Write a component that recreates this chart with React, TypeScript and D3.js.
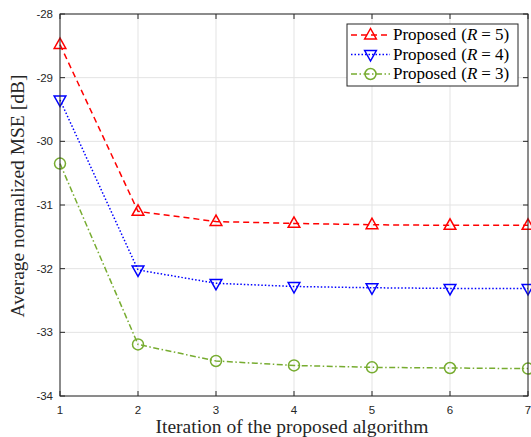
import React from "react";
import * as d3 from "d3";

const iterations = [1, 2, 3, 4, 5, 6, 7];
const mseR5 = [-28.48, -31.1, -31.26, -31.29, -31.31, -31.32, -31.32];
const mseR4 = [-29.35, -32.02, -32.23, -32.28, -32.3, -32.31, -32.31];
const mseR3 = [-30.35, -33.19, -33.45, -33.52, -33.55, -33.56, -33.57];
const xTicks = [1, 2, 3, 4, 5, 6, 7];
const yTicks = [-28, -29, -30, -31, -32, -33, -34];
const seriesLabels = ["5", "4", "3"];

const W = 531, H = 437;
const M = { left: 60, right: 3, top: 14, bottom: 41 };

const series = [
  { values: mseR5, color: "#ff0000", dash: "6,4", marker: "up", label: seriesLabels[0] },
  { values: mseR4, color: "#0000ff", dash: "1.5,2", marker: "down", label: seriesLabels[1] },
  { values: mseR3, color: "#77ac30", dash: "6,2.5,1.5,2.5", marker: "circle", label: seriesLabels[2] },
];

function Marker({ type, x, y, color }: { type: string; x: number; y: number; color: string }) {
  const s = 6.5;
  if (type === "circle") {
    return <circle cx={x} cy={y} r={5.5} fill="none" stroke={color} strokeWidth={1.5} />;
  }
  const pts =
    type === "up"
      ? [[x, y - s], [x - s * 0.9, y + s * 0.6], [x + s * 0.9, y + s * 0.6]]
      : [[x, y + s], [x - s * 0.9, y - s * 0.6], [x + s * 0.9, y - s * 0.6]];
  return <polygon points={pts.map((p) => p.join(",")).join(" ")} fill="none" stroke={color} strokeWidth={1.5} />;
}

export default function App() {
  const x = d3.scaleLinear().domain([1, 7]).range([M.left, W - M.right]);
  const y = d3.scaleLinear().domain([-34, -28]).range([H - M.bottom, M.top]);
  const line = d3
    .line<number>()
    .x((_, i) => x(iterations[i]))
    .y((d) => y(d));
  const axisColor = "#262626";
  const x0 = x(1), x1 = x(7), y0 = y(-34), y1 = y(-28);
  const tickFont = "'Liberation Sans', Arial, sans-serif";
  const serif = "'Liberation Serif', 'DejaVu Serif', serif";
  const legX = 347, legY = 24, legW = 171, legH = 62;

  return (
    <svg width={W} height={H} style={{ position: "absolute", left: 0, top: 0, background: "#fff" }}>
      <rect x={0} y={0} width={W} height={H} fill="#fff" />
      {/* grid */}
      {xTicks.map((t) => (
        <line key={"gx" + t} x1={x(t)} x2={x(t)} y1={y0} y2={y1} stroke="#e3e3e3" strokeWidth={1} />
      ))}
      {yTicks.map((t) => (
        <line key={"gy" + t} x1={x0} x2={x1} y1={y(t)} y2={y(t)} stroke="#e3e3e3" strokeWidth={1} />
      ))}
      {/* series */}
      {series.map((s, i) => (
        <g key={"s" + i}>
          <path d={line(s.values) || ""} fill="none" stroke={s.color} strokeWidth={1.5} strokeDasharray={s.dash} />
          {s.values.map((v, j) => (
            <Marker key={j} type={s.marker} x={x(iterations[j])} y={y(v)} color={s.color} />
          ))}
        </g>
      ))}
      {/* axes box */}
      <rect x={x0} y={y1} width={x1 - x0} height={y0 - y1} fill="none" stroke={axisColor} strokeWidth={1} />
      {xTicks.map((t) => (
        <g key={"tx" + t}>
          <line x1={x(t)} x2={x(t)} y1={y0} y2={y0 - 5} stroke={axisColor} />
          <line x1={x(t)} x2={x(t)} y1={y1} y2={y1 + 5} stroke={axisColor} />
          <text x={x(t)} y={y0 + 18} textAnchor="middle" fontFamily={tickFont} fontSize={11.5} fill={axisColor}>
            {t}
          </text>
        </g>
      ))}
      {yTicks.map((t) => (
        <g key={"ty" + t}>
          <line x1={x0} x2={x0 + 5} y1={y(t)} y2={y(t)} stroke={axisColor} />
          <line x1={x1} x2={x1 - 5} y1={y(t)} y2={y(t)} stroke={axisColor} />
          <text x={x0 - 7} y={y(t) + 4} textAnchor="end" fontFamily={tickFont} fontSize={11.5} fill={axisColor}>
            {t}
          </text>
        </g>
      ))}
      {/* axis labels */}
      <text x={(x0 + x1) / 2 - 2} y={H - 4} textAnchor="middle" fontFamily={serif} fontSize={19.5} fill={axisColor}>
        Iteration of the proposed algorithm
      </text>
      <text
        transform={`translate(24,${(y0 + y1) / 2 - 9}) rotate(-90)`}
        textAnchor="middle"
        fontFamily={serif}
        fontSize={19.5}
        fill={axisColor}
      >
        Average normalized MSE [dB]
      </text>
      {/* legend */}
      <rect x={legX} y={legY} width={legW} height={legH} fill="#fff" stroke={axisColor} strokeWidth={1} />
      {series.map((s, i) => {
        const ly = legY + 11 + i * 19.5;
        return (
          <g key={"l" + i}>
            <line x1={legX + 4} x2={legX + 43} y1={ly} y2={ly} stroke={s.color} strokeWidth={1.5} strokeDasharray={s.dash} />
            <Marker type={s.marker} x={legX + 23.5} y={ly} color={s.color} />
            <text x={legX + 46} y={ly + 5} fontFamily={serif} fontSize={17} fill="#000">
              Proposed<tspan dx={5}>(</tspan>
              <tspan fontStyle="italic">R</tspan>
              <tspan dx={4}>=</tspan>
              <tspan dx={4}>{s.label})</tspan>
            </text>
          </g>
        );
      })}
    </svg>
  );
}
